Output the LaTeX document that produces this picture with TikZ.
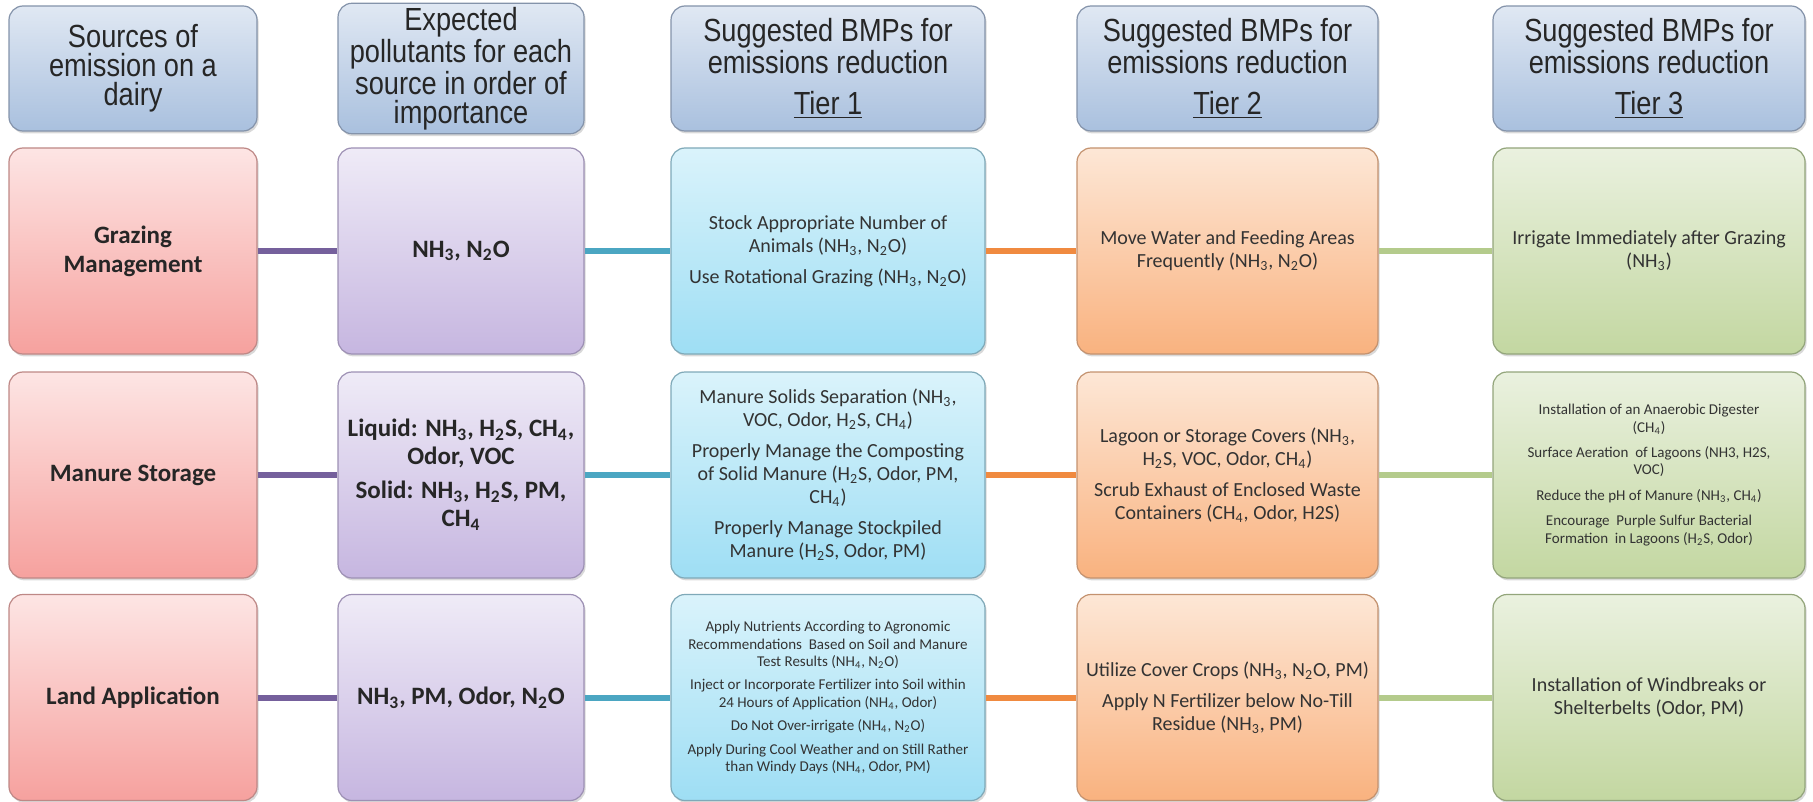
\documentclass[tikz,border=0pt]{standalone}
\usepackage{fontspec}
\setmainfont{Carlito}
\newfontfamily\hdrfont{Liberation Sans}[FakeStretch=0.85]
\usetikzlibrary{shadows}

\definecolor{hdrtop}{HTML}{E0E8F3}
\definecolor{hdrbot}{HTML}{A9C0DE}
\definecolor{hdrline}{HTML}{8493AA}
\definecolor{srctop}{HTML}{FDE5E4}
\definecolor{srcbot}{HTML}{F6A19E}
\definecolor{srcline}{HTML}{BE8886}
\definecolor{poltop}{HTML}{EFEBF7}
\definecolor{polbot}{HTML}{C6B6E0}
\definecolor{polline}{HTML}{9D90B4}
\definecolor{onetop}{HTML}{DAF3FB}
\definecolor{onebot}{HTML}{9EDEF4}
\definecolor{oneline}{HTML}{7FA9B8}
\definecolor{twotop}{HTML}{FDE7D6}
\definecolor{twobot}{HTML}{F9B27F}
\definecolor{twoline}{HTML}{C4926F}
\definecolor{thrtop}{HTML}{EAF1DF}
\definecolor{thrbot}{HTML}{C3D7A1}
\definecolor{thrline}{HTML}{93A57B}
\definecolor{linepurple}{HTML}{75609C}
\definecolor{lineteal}{HTML}{4BA6C2}
\definecolor{lineorange}{HTML}{F08A40}
\definecolor{linegreen}{HTML}{B4CB8C}
\definecolor{bodytext}{HTML}{333333}

\newcommand{\nhthree}{NH\textsubscript{3}}
\newcommand{\nhfour}{NH\textsubscript{4}}
\newcommand{\ntwoo}{N\textsubscript{2}O}
\newcommand{\htwos}{H\textsubscript{2}S}
\newcommand{\chfour}{CH\textsubscript{4}}

\tikzset{
  cell/.style={draw, rounded corners=7pt, align=center, inner sep=2pt, line width=0.6pt,
    drop shadow={opacity=0.3, shadow xshift=0.8pt, shadow yshift=-1.2pt}},
  srccol/.style={minimum width=124pt},
  polcol/.style={minimum width=123pt},
  onecol/.style={minimum width=157pt},
  twocol/.style={minimum width=150.5pt},
  thrcol/.style={minimum width=156pt},
  hdr/.style={cell, draw=hdrline, top color=hdrtop, bottom color=hdrbot,
    minimum height=62.5pt, text=black!85, font=\hdrfont\fontsize{16}{14.5}\selectfont},
  rowbox/.style={cell, minimum height=103pt},
  srcbox/.style={rowbox, srccol, draw=srcline, top color=srctop, bottom color=srcbot,
    text=black!85, font=\bfseries\fontsize{12.5}{14.5}\selectfont},
  polbox/.style={rowbox, polcol, draw=polline, top color=poltop, bottom color=polbot,
    text=black!85, font=\bfseries\fontsize{12.5}{14}\selectfont},
  onebox/.style={rowbox, onecol, draw=oneline, top color=onetop, bottom color=onebot,
    text=bodytext, font=\fontsize{10}{11.5}\selectfont},
  twobox/.style={rowbox, twocol, draw=twoline, top color=twotop, bottom color=twobot,
    text=bodytext, font=\fontsize{10}{11.5}\selectfont},
  thrbox/.style={rowbox, thrcol, draw=thrline, top color=thrtop, bottom color=thrbot,
    text=bodytext, font=\fontsize{10}{11.5}\selectfont},
  small/.style={font=\fontsize{7.5}{8.7}\selectfont},
  purpline/.style={draw=linepurple, line width=3pt},
  tealline/.style={draw=lineteal, line width=3pt},
  orngline/.style={draw=lineorange, line width=3pt},
  grnline/.style={draw=linegreen, line width=3pt}
}

\begin{document}
\begin{tikzpicture}[x=0.5pt, y=-0.5pt]
  \useasboundingbox (0,0) rectangle (1813,802);

  % column headers
  \node[hdr, srccol] (hsrc) at (133,68.5) {Sources of\\emission on a\\dairy};
  \node[hdr, polcol] (hpol) at (461,68.5) {Expected\\pollutants for each\\source in order of\\importance};
  \node[hdr, onecol] (hone) at (828,68.5) {Suggested BMPs for\\emissions reduction\\[6pt]\underline{Tier 1}};
  \node[hdr, twocol] (htwo) at (1227.5,68.5) {Suggested BMPs for\\emissions reduction\\[6pt]\underline{Tier 2}};
  \node[hdr, thrcol] (hthr) at (1649,68.5) {Suggested BMPs for\\emissions reduction\\[6pt]\underline{Tier 3}};

  % sources
  \node[srcbox] (src1) at (133,251) {Grazing\\Management};
  \node[srcbox] (src2) at (133,475) {Manure Storage};
  \node[srcbox] (src3) at (133,697.5) {Land Application};

  % pollutants
  \node[polbox] (pol1) at (461,251) {\nhthree, \ntwoo};
  \node[polbox] (pol2) at (461,475) {Liquid: \nhthree, \htwos, \chfour,\\Odor, VOC\\[3pt]Solid: \nhthree, \htwos, PM,\\\chfour};
  \node[polbox] (pol3) at (461,697.5) {\nhthree, PM, Odor, \ntwoo};

  % tier 1
  \node[onebox] (one1) at (828,251) {Stock Appropriate Number of\\Animals (\nhthree, \ntwoo)\\[4pt]Use Rotational Grazing (\nhthree, \ntwoo)};
  \node[onebox] (one2) at (828,475) {Manure Solids Separation (\nhthree,\\VOC, Odor, \htwos, \chfour)\\[4pt]Properly Manage the Composting\\of Solid Manure (\htwos, Odor, PM,\\\chfour)\\[4pt]Properly Manage Stockpiled\\Manure (\htwos, Odor, PM)};
  \node[onebox, small] (one3) at (828,697.5) {Apply Nutrients According to Agronomic\\Recommendations\ \ Based on Soil and Manure\\Test Results (\nhfour, \ntwoo)\\[3pt]Inject or Incorporate Fertilizer into Soil within\\24 Hours of Application (\nhfour, Odor)\\[3pt]Do Not Over-irrigate (\nhfour, \ntwoo)\\[3pt]Apply During Cool Weather and on Still Rather\\than Windy Days (\nhfour, Odor, PM)};

  % tier 2
  \node[twobox] (two1) at (1227.5,251) {Move Water and Feeding Areas\\Frequently (\nhthree, \ntwoo)};
  \node[twobox] (two2) at (1227.5,475) {Lagoon or Storage Covers (\nhthree,\\\htwos, VOC, Odor, \chfour)\\[4pt]Scrub Exhaust of Enclosed Waste\\Containers (\chfour, Odor, H2S)};
  \node[twobox] (two3) at (1227.5,697.5) {Utilize Cover Crops (\nhthree, \ntwoo, PM)\\[4pt]Apply N Fertilizer below No-Till\\Residue (\nhthree, PM)};

  % tier 3
  \node[thrbox] (thr1) at (1649,251) {Irrigate Immediately after Grazing\\(\nhthree)};
  \node[thrbox, small] (thr2) at (1649,475) {Installation of an Anaerobic Digester\\(\chfour)\\[4pt]Surface Aeration\ \ of Lagoons (NH3, H2S,\\VOC)\\[4pt]Reduce the pH of Manure (\nhthree, \chfour)\\[4pt]Encourage\ \ Purple Sulfur Bacterial\\Formation\ \ in Lagoons (\htwos, Odor)};
  \node[thrbox] (thr3) at (1649,697.5) {Installation of Windbreaks or\\Shelterbelts (Odor, PM)};

  % connectors
  \foreach \r in {1,2,3} {
    \draw[purpline] (src\r) -- (pol\r);
    \draw[tealline] (pol\r) -- (one\r);
    \draw[orngline] (one\r) -- (two\r);
    \draw[grnline] (two\r) -- (thr\r);
  }
\end{tikzpicture}
\end{document}
